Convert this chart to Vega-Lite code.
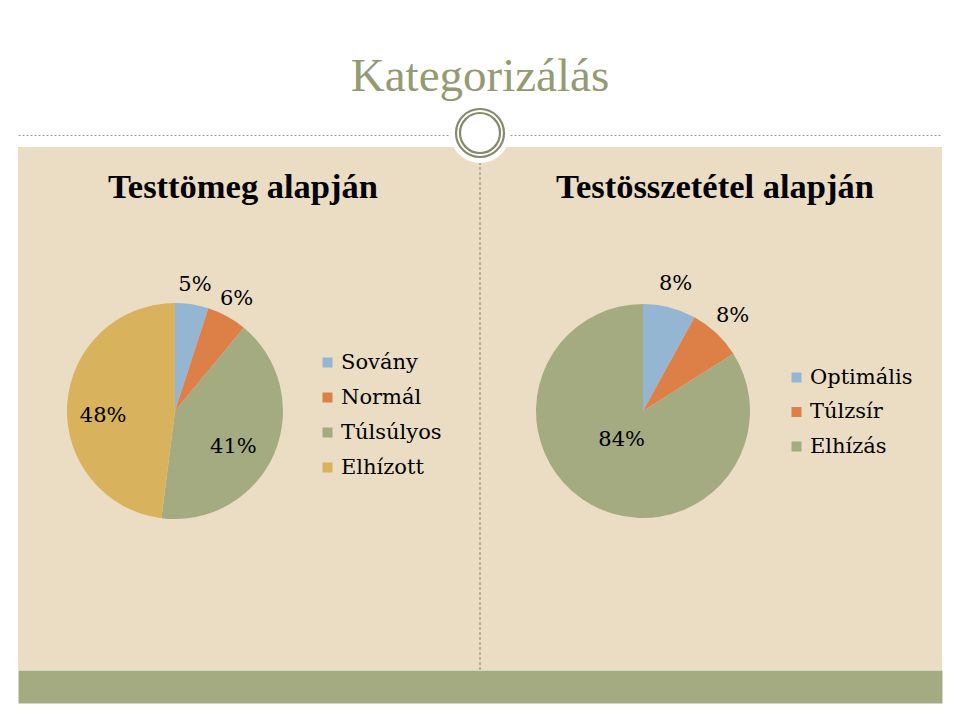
{
  "$schema": "https://vega.github.io/schema/vega-lite/v6.json",
  "width": 924,
  "height": 523,
  "autosize": {"type": "none"},
  "padding": {"left": 18, "right": 18, "top": 147, "bottom": 50},
  "background": "#ffffff",
  "config": {
    "view": {"fill": "#ebddc3", "stroke": null},
    "font": "DejaVu Serif"
  },
  "title": {
    "text": "Kategorizálás",
    "font": "Liberation Serif",
    "fontSize": 47,
    "fontWeight": "normal",
    "color": "#949a72",
    "anchor": "middle",
    "offset": 2
  },
  "datasets": {
    "bmi": [
      {"kat": "Sovány", "p": 5, "i": 1, "lbl": "5%"},
      {"kat": "Normál", "p": 6, "i": 2, "lbl": "6%"},
      {"kat": "Túlsúlyos", "p": 41, "i": 3, "lbl": "41%"},
      {"kat": "Elhízott", "p": 48, "i": 4, "lbl": "48%"}
    ],
    "zsir": [
      {"kat": "Optimális", "p": 8, "i": 1, "lbl": "8%"},
      {"kat": "Túlzsír", "p": 8, "i": 2, "lbl": "8%"},
      {"kat": "Elhízás", "p": 84, "i": 3, "lbl": "84%"}
    ],
    "one": [{}]
  },
  "resolve": {"scale": {"color": "independent"}, "axis": {"x": "independent"}},
  "layer": [
    {
      "data": {"name": "one"},
      "mark": {"type": "rule", "color": "#8c8466", "strokeWidth": 1, "strokeDash": [3, 2]},
      "encoding": {
        "x": {
          "datum": 0.5,
          "type": "quantitative",
          "scale": {"domain": [0, 1]},
          "axis": {
            "orient": "bottom",
            "domainColor": "#a5ab81",
            "domainWidth": 33,
            "domainCap": "butt",
            "offset": 16.5,
            "ticks": false,
            "labels": false,
            "grid": false,
            "title": null
          }
        }
      }
    },
    {
      "data": {"name": "one"},
      "mark": {"type": "point", "filled": true, "color": "#ffffff", "opacity": 1, "size": 3600, "yOffset": -14},
      "encoding": {
        "x": {
          "datum": 0.5,
          "type": "quantitative",
          "axis": {
            "orient": "top",
            "domainColor": "#9a9a8a",
            "domainWidth": 1,
            "domainDash": [2, 2],
            "offset": 12,
            "ticks": false,
            "labels": false,
            "grid": false,
            "title": null
          }
        },
        "y": {"datum": 1, "type": "quantitative", "scale": {"domain": [0, 1]}, "axis": null}
      }
    },
    {
      "data": {"name": "one"},
      "mark": {"type": "point", "filled": false, "color": "#858a6a", "strokeWidth": 2.2, "opacity": 1, "size": 2304, "yOffset": -14},
      "encoding": {
        "x": {"datum": 0.5, "type": "quantitative", "axis": null},
        "y": {"datum": 1, "type": "quantitative", "axis": null}
      }
    },
    {
      "data": {"name": "one"},
      "mark": {"type": "point", "filled": false, "color": "#858a6a", "strokeWidth": 2.2, "opacity": 1, "size": 1600, "yOffset": -14},
      "encoding": {
        "x": {"datum": 0.5, "type": "quantitative", "axis": null},
        "y": {"datum": 1, "type": "quantitative", "axis": null}
      }
    },
    {
      "data": {"name": "one"},
      "mark": {"type": "text", "font": "Liberation Serif", "fontSize": 34.5, "fontWeight": "bold", "color": "#000000", "align": "center", "baseline": "middle"},
      "encoding": {
        "x": {"datum": 0.2435, "type": "quantitative", "axis": null},
        "y": {"datum": 0.921, "type": "quantitative", "axis": null},
        "text": {"value": "Testtömeg alapján"}
      }
    },
    {
      "data": {"name": "one"},
      "mark": {"type": "text", "font": "Liberation Serif", "fontSize": 34.5, "fontWeight": "bold", "color": "#000000", "align": "center", "baseline": "middle"},
      "encoding": {
        "x": {"datum": 0.7543, "type": "quantitative", "axis": null},
        "y": {"datum": 0.921, "type": "quantitative", "axis": null},
        "text": {"value": "Testösszetétel alapján"}
      }
    },
    {
      "data": {"name": "bmi"},
      "mark": {"type": "arc", "radius": 108, "stroke": null},
      "encoding": {
        "x": {"datum": 0.1699, "type": "quantitative", "axis": null},
        "y": {"datum": 0.4952, "type": "quantitative", "axis": null},
        "theta": {"field": "p", "type": "quantitative", "stack": true},
        "order": {"field": "i", "type": "quantitative"},
        "color": {
          "field": "kat",
          "type": "nominal",
          "scale": {"domain": ["Sovány", "Normál", "Túlsúlyos", "Elhízott"], "range": ["#94b6d2", "#dd8047", "#a5ab81", "#d8b25c"]},
          "legend": {
            "orient": "none",
            "legendX": 299,
            "legendY": 205,
            "title": null,
            "symbolType": "square",
            "symbolSize": 100,
            "symbolStrokeWidth": 0,
            "labelFont": "DejaVu Serif",
            "labelFontSize": 21,
            "labelColor": "#000000",
            "labelOffset": 3,
            "rowPadding": 13
          }
        }
      }
    },
    {
      "data": {"name": "bmi"},
      "mark": {"type": "text", "radius": 128, "fontSize": 21, "font": "DejaVu Serif", "color": "#000000", "align": "center", "baseline": "middle"},
      "encoding": {
        "x": {"datum": 0.1699, "type": "quantitative", "axis": null},
        "y": {"datum": 0.4952, "type": "quantitative", "axis": null},
        "theta": {"field": "p", "type": "quantitative", "stack": true},
        "order": {"field": "i", "type": "quantitative"},
        "text": {"field": "lbl"},
        "opacity": {"condition": {"test": "datum.i <= 2", "value": 1}, "value": 0}
      }
    },
    {
      "data": {"name": "bmi"},
      "mark": {"type": "text", "radius": 68, "dx": -4, "dy": 9, "fontSize": 21, "font": "DejaVu Serif", "color": "#000000", "align": "center", "baseline": "middle"},
      "encoding": {
        "x": {"datum": 0.1699, "type": "quantitative", "axis": null},
        "y": {"datum": 0.4952, "type": "quantitative", "axis": null},
        "theta": {"field": "p", "type": "quantitative", "stack": true},
        "order": {"field": "i", "type": "quantitative"},
        "text": {"field": "lbl"},
        "opacity": {"condition": {"test": "datum.i >= 3", "value": 1}, "value": 0}
      }
    },
    {
      "data": {"name": "zsir"},
      "mark": {"type": "arc", "radius": 107, "stroke": null},
      "encoding": {
        "x": {"datum": 0.6764, "type": "quantitative", "axis": null},
        "y": {"datum": 0.4952, "type": "quantitative", "axis": null},
        "theta": {"field": "p", "type": "quantitative", "stack": true},
        "order": {"field": "i", "type": "quantitative"},
        "color": {
          "field": "kat",
          "type": "nominal",
          "scale": {"domain": ["Optimális", "Túlzsír", "Elhízás"], "range": ["#94b6d2", "#dd8047", "#a5ab81"]},
          "legend": {
            "orient": "none",
            "legendX": 768,
            "legendY": 220,
            "title": null,
            "symbolType": "square",
            "symbolSize": 100,
            "symbolStrokeWidth": 0,
            "labelFont": "DejaVu Serif",
            "labelFontSize": 21,
            "labelColor": "#000000",
            "labelOffset": 3,
            "rowPadding": 12.5
          }
        }
      }
    },
    {
      "data": {"name": "zsir"},
      "mark": {"type": "text", "radius": 131, "fontSize": 21, "font": "DejaVu Serif", "color": "#000000", "align": "center", "baseline": "middle"},
      "encoding": {
        "x": {"datum": 0.6764, "type": "quantitative", "axis": null},
        "y": {"datum": 0.4952, "type": "quantitative", "axis": null},
        "theta": {"field": "p", "type": "quantitative", "stack": true},
        "order": {"field": "i", "type": "quantitative"},
        "text": {"field": "lbl"},
        "opacity": {"condition": {"test": "datum.i <= 2", "value": 1}, "value": 0}
      }
    },
    {
      "data": {"name": "zsir"},
      "mark": {"type": "text", "radius": 36, "dx": -4, "dy": -3, "fontSize": 21, "font": "DejaVu Serif", "color": "#000000", "align": "center", "baseline": "middle"},
      "encoding": {
        "x": {"datum": 0.6764, "type": "quantitative", "axis": null},
        "y": {"datum": 0.4952, "type": "quantitative", "axis": null},
        "theta": {"field": "p", "type": "quantitative", "stack": true},
        "order": {"field": "i", "type": "quantitative"},
        "text": {"field": "lbl"},
        "opacity": {"condition": {"test": "datum.i >= 3", "value": 1}, "value": 0}
      }
    }
  ]
}
